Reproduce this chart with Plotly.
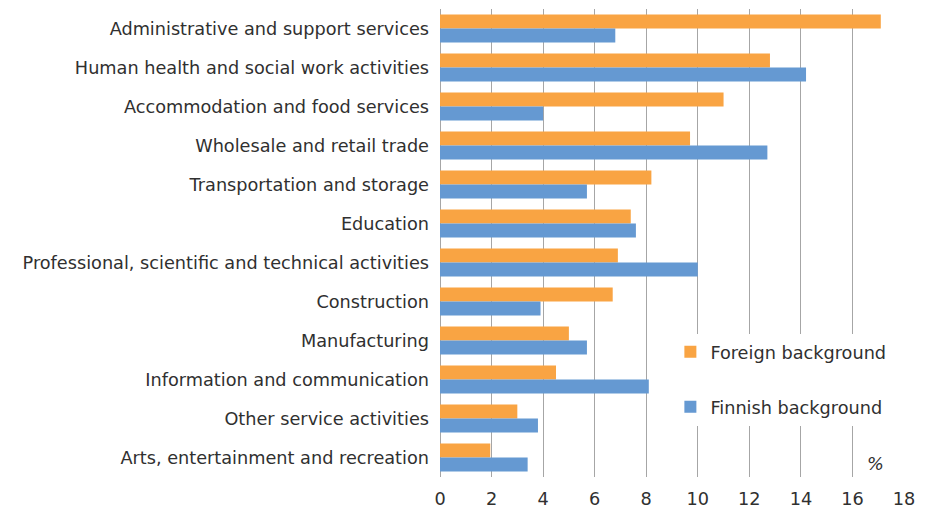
import plotly.graph_objects as go

categories = [
    "Administrative and support services",
    "Human health and social work activities",
    "Accommodation and food services",
    "Wholesale and retail trade",
    "Transportation and storage",
    "Education",
    "Professional, scientific and technical activities",
    "Construction",
    "Manufacturing",
    "Information and communication",
    "Other service activities",
    "Arts, entertainment and recreation",
]
foreign = [17.1, 12.8, 11.0, 9.7, 8.2, 7.4, 6.9, 6.7, 5.0, 4.5, 3.0, 1.95]
finnish = [6.8, 14.2, 4.0, 12.7, 5.7, 7.6, 10.0, 3.9, 5.7, 8.1, 3.8, 3.4]
x_ticks = [0, 2, 4, 6, 8, 10, 12, 14, 16, 18]

FONT = "DejaVu Sans, Verdana, sans-serif"
TXT = "#303030"
FS = 17.7

fig = go.Figure()
fig.add_trace(go.Bar(
    y=categories, x=foreign, orientation="h", name="Foreign background",
    marker=dict(color="#F9A443", line=dict(width=0)), legendgroup="a",
))
fig.add_trace(go.Bar(
    y=categories, x=finnish, orientation="h", name="Finnish background",
    marker=dict(color="#6599D2", line=dict(width=0)), legendgroup="b",
))

fig.update_layout(
    width=922, height=502,
    margin=dict(l=432, r=26, t=1, b=33),
    paper_bgcolor="white", plot_bgcolor="white",
    barmode="group", bargap=0.28, bargroupgap=0,
    font=dict(family=FONT, size=FS, color=TXT),
    showlegend=True,
    legend=dict(
        x=0.4965, y=0.306, xanchor="left", yanchor="top",
        bgcolor="white", traceorder="grouped", tracegroupgap=29,
        font=dict(family=FONT, size=FS, color=TXT),
        itemwidth=30,
    ),
    xaxis=dict(
        range=[0, 18], tickvals=x_ticks, showgrid=True,
        gridcolor="#A6A6A6", gridwidth=1, zeroline=True,
        zerolinecolor="#A6A6A6", zerolinewidth=1,
        showline=False, ticks="", tickfont=dict(size=FS, color=TXT),
        ticklabelstandoff=9, fixedrange=True, automargin=False,
    ),
    yaxis=dict(
        autorange="reversed", showgrid=False, showline=False, ticks="",
        ticklabelstandoff=10, tickfont=dict(size=FS, color=TXT),
        automargin=False,
    ),
    annotations=[dict(
        x=16.9, y=0.0, xref="x", yref="paper", yanchor="bottom",
        text="<i>%</i>", showarrow=False, yshift=1,
        font=dict(family=FONT, size=FS, color=TXT),
    )],
)

fig.write_html("out.html")
